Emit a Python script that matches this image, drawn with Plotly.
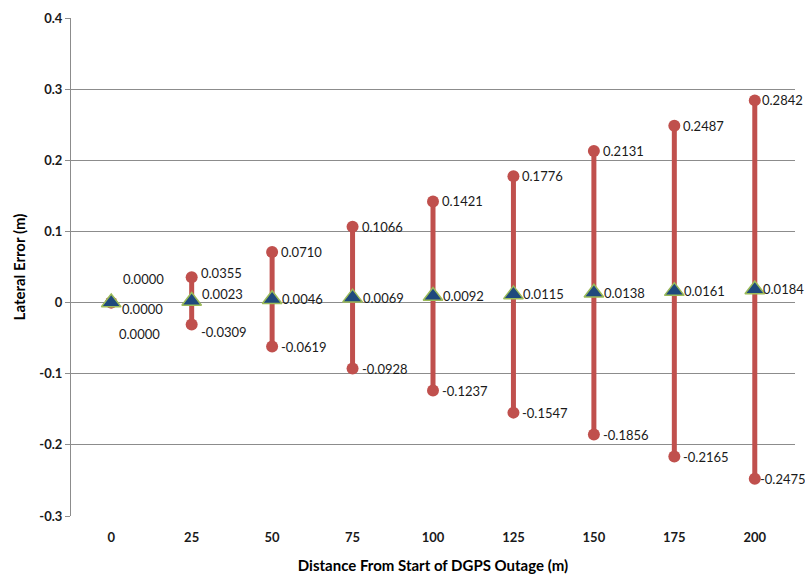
import plotly.graph_objects as go

# Distance from start of DGPS outage (m)
distances = ["0", "25", "50", "75", "100", "125", "150", "175", "200"]
# Lateral error envelope (m)
upper_err = [0.0000, 0.0355, 0.0710, 0.1066, 0.1421, 0.1776, 0.2131, 0.2487, 0.2842]
lower_err = [0.0000, -0.0309, -0.0619, -0.0928, -0.1237, -0.1547, -0.1856, -0.2165, -0.2475]
mean_err = [0.0000, 0.0023, 0.0046, 0.0069, 0.0092, 0.0115, 0.0138, 0.0161, 0.0184]

RED = "#C0504D"
BLUE = "#1F497D"
GREEN = "#9BBB59"
FONT = "Lato, 'Open Sans', sans-serif"
TXT = "#1A1A1A"

fig = go.Figure()

# High-low bars: one segment per distance, separated by gaps
bx, by = [], []
for d, lo, hi in zip(distances, lower_err, upper_err):
    bx += [d, d, None]
    by += [lo, hi, None]
fig.add_trace(go.Scatter(
    x=bx, y=by, mode="lines", line=dict(color=RED, width=5),
    hoverinfo="skip", showlegend=False))
fig.add_trace(go.Scatter(
    x=distances + distances, y=upper_err + lower_err, mode="markers",
    marker=dict(color=RED, size=12, symbol="circle"), showlegend=False))
fig.add_trace(go.Scatter(
    x=distances, y=mean_err, mode="markers",
    marker=dict(color=BLUE, size=17, symbol="triangle-up",
                line=dict(color=GREEN, width=1.5)),
    showlegend=False))

# Label offsets (pixels) to keep crowded labels apart
up_dx = [11, 8, 8, 8, 8, 8, 8, 8, 6]
up_dy = [24, 4, 0, 0, 0, 0, 0, 0, 0]
mid_dx = [10, 9, 9, 9, 9, 9, 9, 9, 7]
mid_dy = [-6, 7, 0, 0, 0, 0, 0, 0, 0]
lo_dx = [7, 8, 8, 8, 8, 8, 8, 8, 4]
lo_dy = [-31, -7, 0, 0, 0, 0, 0, 0, 0]

annotations = []
for i, d in enumerate(distances):
    for val, dx, dy in ((upper_err[i], up_dx[i], up_dy[i]),
                        (mean_err[i], mid_dx[i], mid_dy[i]),
                        (lower_err[i], lo_dx[i], lo_dy[i])):
        annotations.append(dict(
            x=i, y=val, xref="x", yref="y", text=f"{val:.4f}", showarrow=False,
            xanchor="left", yanchor="middle", xshift=dx, yshift=dy,
            borderpad=0,
            font=dict(family=FONT, size=13, color=TXT)))

fig.update_layout(
    width=805, height=584,
    margin=dict(l=71, r=10, t=16, b=68),
    paper_bgcolor="white", plot_bgcolor="white",
    font=dict(family=FONT, color=TXT),
    annotations=annotations,
    xaxis=dict(
        type="category", range=[-0.5, 8.5], showgrid=False,
        showline=False, ticks="", zeroline=False, ticklabelstandoff=12,
        tickfont=dict(family=FONT, size=13, color=TXT, weight="bold"),
        title=dict(text="<b>Distance From Start of DGPS Outage (m)</b>",
                   font=dict(family=FONT, size=15, color="#000000"), standoff=16)),
    yaxis=dict(
        range=[-0.3, 0.4], showgrid=True,
        gridcolor="#8C8C8C", gridwidth=1, zeroline=False,
        showline=True, linecolor="#8C8C8C", linewidth=1,
        ticks="outside", ticklen=5, tickcolor="#8C8C8C",
        tickvals=[-0.3, -0.2, -0.1, 0, 0.1, 0.2, 0.3, 0.4],
        ticktext=["-0.3", "-0.2", "-0.1", "0", "0.1", "0.2", "0.3", "0.4"],
        tickfont=dict(family=FONT, size=13, color=TXT, weight="bold"),
        title=dict(text="<b>Lateral Error (m)</b>",
                   font=dict(family=FONT, size=15, color="#000000"), standoff=10)),
)

fig.write_html("out.html")
